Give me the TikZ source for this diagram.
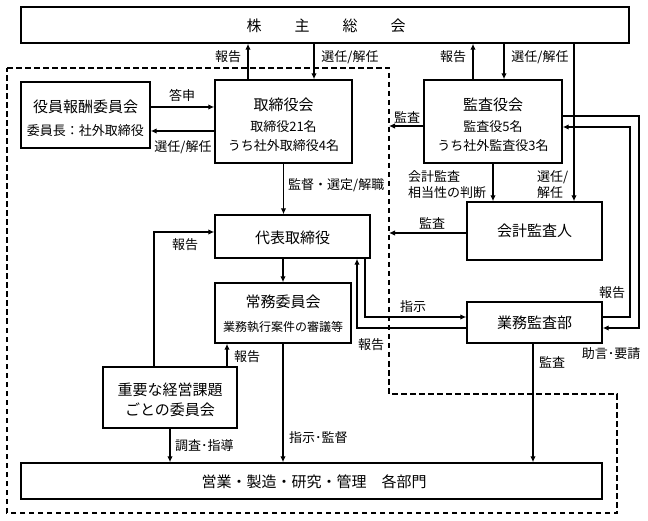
\documentclass[tikz,border=0pt]{standalone}
\usepackage{fontspec}
\newfontfamily\jp{Noto Sans CJK JP}
\usetikzlibrary{arrows.meta}
\begin{document}
\begin{tikzpicture}[x=1pt,y=-1pt,
  box/.style={draw, line width=1.4pt, rectangle, inner sep=0pt},
  ttl/.style={font=\jp\fontsize{15}{17}\selectfont, inner sep=0pt},
  sub/.style={font=\jp\fontsize{13}{15}\selectfont, inner sep=0pt},
  lbl/.style={font=\jp\fontsize{13}{15}\selectfont, inner sep=0pt},
  arr/.style={line width=1.2pt, -{Latex[length=6pt,width=5.5pt]}},
  dashbox/.style={line width=1.2pt, dash pattern=on 5.5pt off 3.5pt}]
\useasboundingbox (0,0) rectangle (648,521);
% dashed region
\draw[dashbox] (7,68) -- (389,68) -- (389,394) -- (617,394) -- (617,513) -- (7,513) -- cycle;
% boxes
\node[box, minimum width=608pt, minimum height=36pt] (top) at (325,25) {};
\node[box, minimum width=129pt, minimum height=66pt] (yakuin) at (85.5,115) {};
\node[box, minimum width=137pt, minimum height=83pt] (torikai) at (283.5,121.5) {};
\node[box, minimum width=138pt, minimum height=83pt] (kansa) at (493,121.5) {};
\node[box, minimum width=135pt, minimum height=58pt] (kaikei) at (534.5,231) {};
\node[box, minimum width=155pt, minimum height=43pt] (daihyo) at (292.5,236.5) {};
\node[box, minimum width=136pt, minimum height=60pt] (jomu) at (283,313) {};
\node[box, minimum width=135pt, minimum height=41pt] (gyomu) at (534.5,322.5) {};
\node[box, minimum width=134pt, minimum height=61pt] (juyo) at (170,397.5) {};
\node[box, minimum width=581pt, minimum height=36pt] (eigyo) at (311.5,481) {};
% box texts
\node[ttl] (t-top) at (326,26) {株\hspace{33pt}主\hspace{33pt}総\hspace{33pt}会};
\node[ttl] (t-yak1) at (85.5,107) {役員報酬委員会};
\node[sub] (t-yak2) at (85.5,131) {委員長：社外取締役};
\node[ttl] (t-tk1) at (283.5,105) {取締役会};
\node[sub] (t-tk2) at (283.5,127) {取締役21名};
\node[sub] (t-tk3) at (283.5,146) {うち社外取締役4名};
\node[ttl] (t-ks1) at (493,105) {監査役会};
\node[sub] (t-ks2) at (493,127) {監査役5名};
\node[sub] (t-ks3) at (493,146) {うち社外監査役3名};
\node[ttl] (t-kk) at (534.5,231) {会計監査人};
\node[ttl] (t-dh) at (292.5,238) {代表取締役};
\node[ttl] (t-jm1) at (283,302) {常務委員会};
\node[font=\jp\fontsize{12}{14}\selectfont, inner sep=0pt] (t-jm2) at (283,327) {業務執行案件の審議等};
\node[ttl] (t-gy) at (534.5,322.5) {業務監査部};
\node[ttl] (t-jy1) at (170,390) {重要な経営課題};
\node[ttl] (t-jy2) at (170,410) {ごとの委員会};
\node[ttl] (t-eg) at (314,482) {営業・製造・研究・管理　各部門};
% helper coordinates
\coordinate (d1) at (389,126);
\coordinate (d2) at (389,233);
\coordinate (xo) at (639,0);
\coordinate (xi) at (630,0);
% connectors
\draw[arr] ([xshift=-35.5pt]torikai.north) -- ([xshift=-35.5pt]torikai.north |- top.south);
\draw[arr] ([xshift=30.5pt]torikai.north |- top.south) -- ([xshift=30.5pt]torikai.north);
\draw[arr] ([xshift=-20pt]kansa.north) -- ([xshift=-20pt]kansa.north |- top.south);
\draw[arr] ([xshift=11pt]kansa.north |- top.south) -- ([xshift=11pt]kansa.north);
\draw[arr] ([xshift=39.5pt]kaikei.north |- top.south) -- ([xshift=39.5pt]kaikei.north);
\draw[arr] ([yshift=8pt]yakuin.east) -- ([yshift=8pt]yakuin.east -| torikai.west);
\draw[arr] ([yshift=-16pt]yakuin.east -| torikai.west) -- ([yshift=-16pt]yakuin.east);
\draw[arr] (torikai.south) -- (torikai.south |- daihyo.north);
\draw[arr] (kansa.west |- d1) -- (d1);
\draw[arr] (kaikei.west |- d2) -- (d2);
\draw[arr] (kansa.south) -- (kansa.south |- kaikei.north);
\draw[arr] (jomu.north |- daihyo.south) -- (jomu.north);
\draw[arr] ([xshift=72.5pt]daihyo.south) |- ([yshift=5.5pt]gyomu.west);
\draw[arr] ([yshift=-5.5pt]gyomu.west) -| ([xshift=64.5pt]daihyo.south);
\draw[arr] (jomu.south) -- (jomu.south |- eigyo.north);
\draw[arr] (juyo.south) -- (juyo.south |- eigyo.north);
\draw[arr] ([xshift=57pt]juyo.north) -- ([xshift=57pt]juyo.north |- jomu.south);
\draw[arr] ([xshift=-16pt]juyo.north) |- ([yshift=4.5pt]daihyo.west);
\draw[arr] ([xshift=-1.5pt]gyomu.south) -- ([xshift=-1.5pt]gyomu.south |- eigyo.north);
\draw[arr] ([yshift=5.5pt]kansa.east) -- ([yshift=5.5pt]kansa.east -| xo) -- ([yshift=-5.5pt]gyomu.east -| xo) -- ([yshift=-5.5pt]gyomu.east);
\draw[arr] ([yshift=5.5pt]gyomu.east) -- ([yshift=5.5pt]gyomu.east -| xi) -- ([yshift=-5.5pt]kansa.east -| xi) -- ([yshift=-5.5pt]kansa.east);
% labels
\node[lbl] (l1) at (228,57) {報告};
\node[lbl] (l2) at (350,57) {選任/解任};
\node[lbl] (l3) at (453,57) {報告};
\node[lbl] (l4) at (540,57) {選任/解任};
\node[lbl] (l5) at (182,95) {答申};
\node[lbl] (l6) at (183,147) {選任/解任};
\node[lbl, anchor=west] (l7) at (288,185) {監督・選定/解職};
\node[lbl] (l8) at (407,117) {監査};
\node[lbl] (l9) at (432,223) {監査};
\node[lbl, anchor=west] (l10) at (408,177) {会計監査};
\node[lbl, anchor=west] (l11) at (408,193) {相当性の判断};
\node[lbl, anchor=west] (l12) at (537,177) {選任/};
\node[lbl, anchor=west] (l13) at (537,193) {解任};
\node[lbl] (l14) at (185,245) {報告};
\node[lbl] (l15) at (413,307) {指示};
\node[lbl] (l16) at (371,345) {報告};
\node[lbl] (l17) at (247,357) {報告};
\node[lbl] (l18) at (612,293) {報告};
\node[lbl] (l19) at (611,354) {助言･要請};
\node[lbl] (l20) at (552,362) {監査};
\node[lbl, anchor=west] (l21) at (175,446) {調査･指導};
\node[lbl, anchor=west] (l22) at (289,438) {指示･監督};
\end{tikzpicture}
\end{document}
